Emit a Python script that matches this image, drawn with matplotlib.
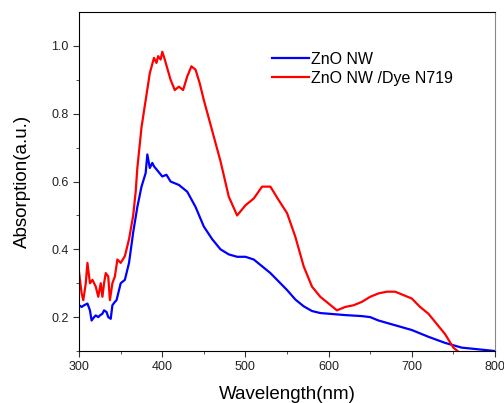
import numpy as np
import matplotlib.pyplot as plt

plt.rcParams['font.family'] = ['Liberation Sans', 'DejaVu Sans']

# ZnO nanowires alone
wl_zno = [300, 303, 306, 310, 313, 315, 318, 320, 323, 325, 328, 330, 333, 335, 338,
          340, 343, 345, 348, 350, 355, 360, 365, 370, 375, 380, 382, 385, 388, 390,
          395, 400, 405, 410, 420, 430, 440, 450, 460, 470, 480, 490, 500, 510, 520,
          530, 540, 550, 560, 570, 580, 590, 600, 620, 640, 650, 660, 680, 700, 720,
          740, 760, 780, 800]
abs_zno = [0.235, 0.23, 0.235, 0.24, 0.22, 0.19, 0.2, 0.205, 0.2, 0.205, 0.21, 0.22, 0.215, 0.2, 0.195,
           0.235, 0.245, 0.25, 0.28, 0.30, 0.31, 0.36, 0.45, 0.525, 0.585, 0.625, 0.68, 0.64, 0.655, 0.645,
           0.63, 0.615, 0.62, 0.60, 0.59, 0.57, 0.525, 0.467, 0.43, 0.40, 0.385, 0.378, 0.378, 0.37, 0.35,
           0.33, 0.305, 0.28, 0.252, 0.232, 0.218, 0.212, 0.21, 0.206, 0.203, 0.2, 0.19, 0.176, 0.162, 0.142,
           0.124, 0.11, 0.105, 0.1]

# ZnO nanowires sensitised with N719
wl_dye = [300, 303, 305, 308, 310, 313, 316, 320, 323, 326, 328, 330, 332, 335, 337,
          340, 343, 346, 350, 355, 360, 365, 368, 370, 375, 380, 385, 390, 393, 395,
          398, 400, 403, 410, 415, 420, 425, 430, 435, 440, 445, 450, 460, 470, 480,
          490, 500, 510, 520, 530, 540, 550, 560, 570, 580, 590, 600, 610, 620, 630,
          640, 650, 660, 670, 680, 690, 700, 710, 720, 730, 740, 750, 755]
abs_dye = [0.33, 0.27, 0.25, 0.30, 0.36, 0.30, 0.31, 0.29, 0.26, 0.30, 0.26, 0.30, 0.33, 0.32, 0.25,
           0.30, 0.32, 0.37, 0.36, 0.38, 0.43, 0.50, 0.57, 0.64, 0.76, 0.84, 0.92, 0.965, 0.95, 0.97,
           0.96, 0.983, 0.96, 0.90, 0.87, 0.88, 0.87, 0.91, 0.94, 0.93, 0.89, 0.84, 0.75, 0.66, 0.555,
           0.50, 0.53, 0.55, 0.585, 0.585, 0.545, 0.507, 0.437, 0.35, 0.29, 0.26, 0.24, 0.22, 0.23, 0.235,
           0.245, 0.26, 0.27, 0.275, 0.275, 0.265, 0.255, 0.23, 0.21, 0.18, 0.15, 0.11, 0.1]

fig = plt.figure(figsize=(5.04, 4.03), dpi=100)
ax = fig.add_axes([0.157, 0.129, 0.825, 0.841])

ax.plot(wl_zno, abs_zno, color='#0000ff', lw=1.6, label='ZnO NW')
ax.plot(wl_dye, abs_dye, color='#ff0000', lw=1.6, label='ZnO NW /Dye N719')

ax.set_xlim(300, 800)
ax.set_ylim(0.1, 1.1)
ax.set_xticks(np.arange(300, 801, 100))
ax.set_xticks(np.arange(300, 801, 50), minor=True)
ax.set_yticks([0.2, 0.4, 0.6, 0.8, 1.0])
ax.set_yticks(np.arange(0.1, 1.01, 0.1), minor=True)
ax.tick_params(which='major', length=4, labelsize=9, colors='#333333', labelcolor='#222222')
ax.tick_params(which='minor', length=2.5, colors='#333333')
ax.spines['right'].set_color('#888888')

ax.set_xlabel('Wavelength(nm)', fontsize=13.5, labelpad=9)
ax.set_ylabel('Absorption(a.u.)', fontsize=13.5, labelpad=15)

ax.legend(loc='upper left', bbox_to_anchor=(0.43, 0.925), frameon=False,
          fontsize=11.5, handlelength=2.3, handletextpad=0.15, labelspacing=0.25)

fig.savefig('out.png', dpi=100)
